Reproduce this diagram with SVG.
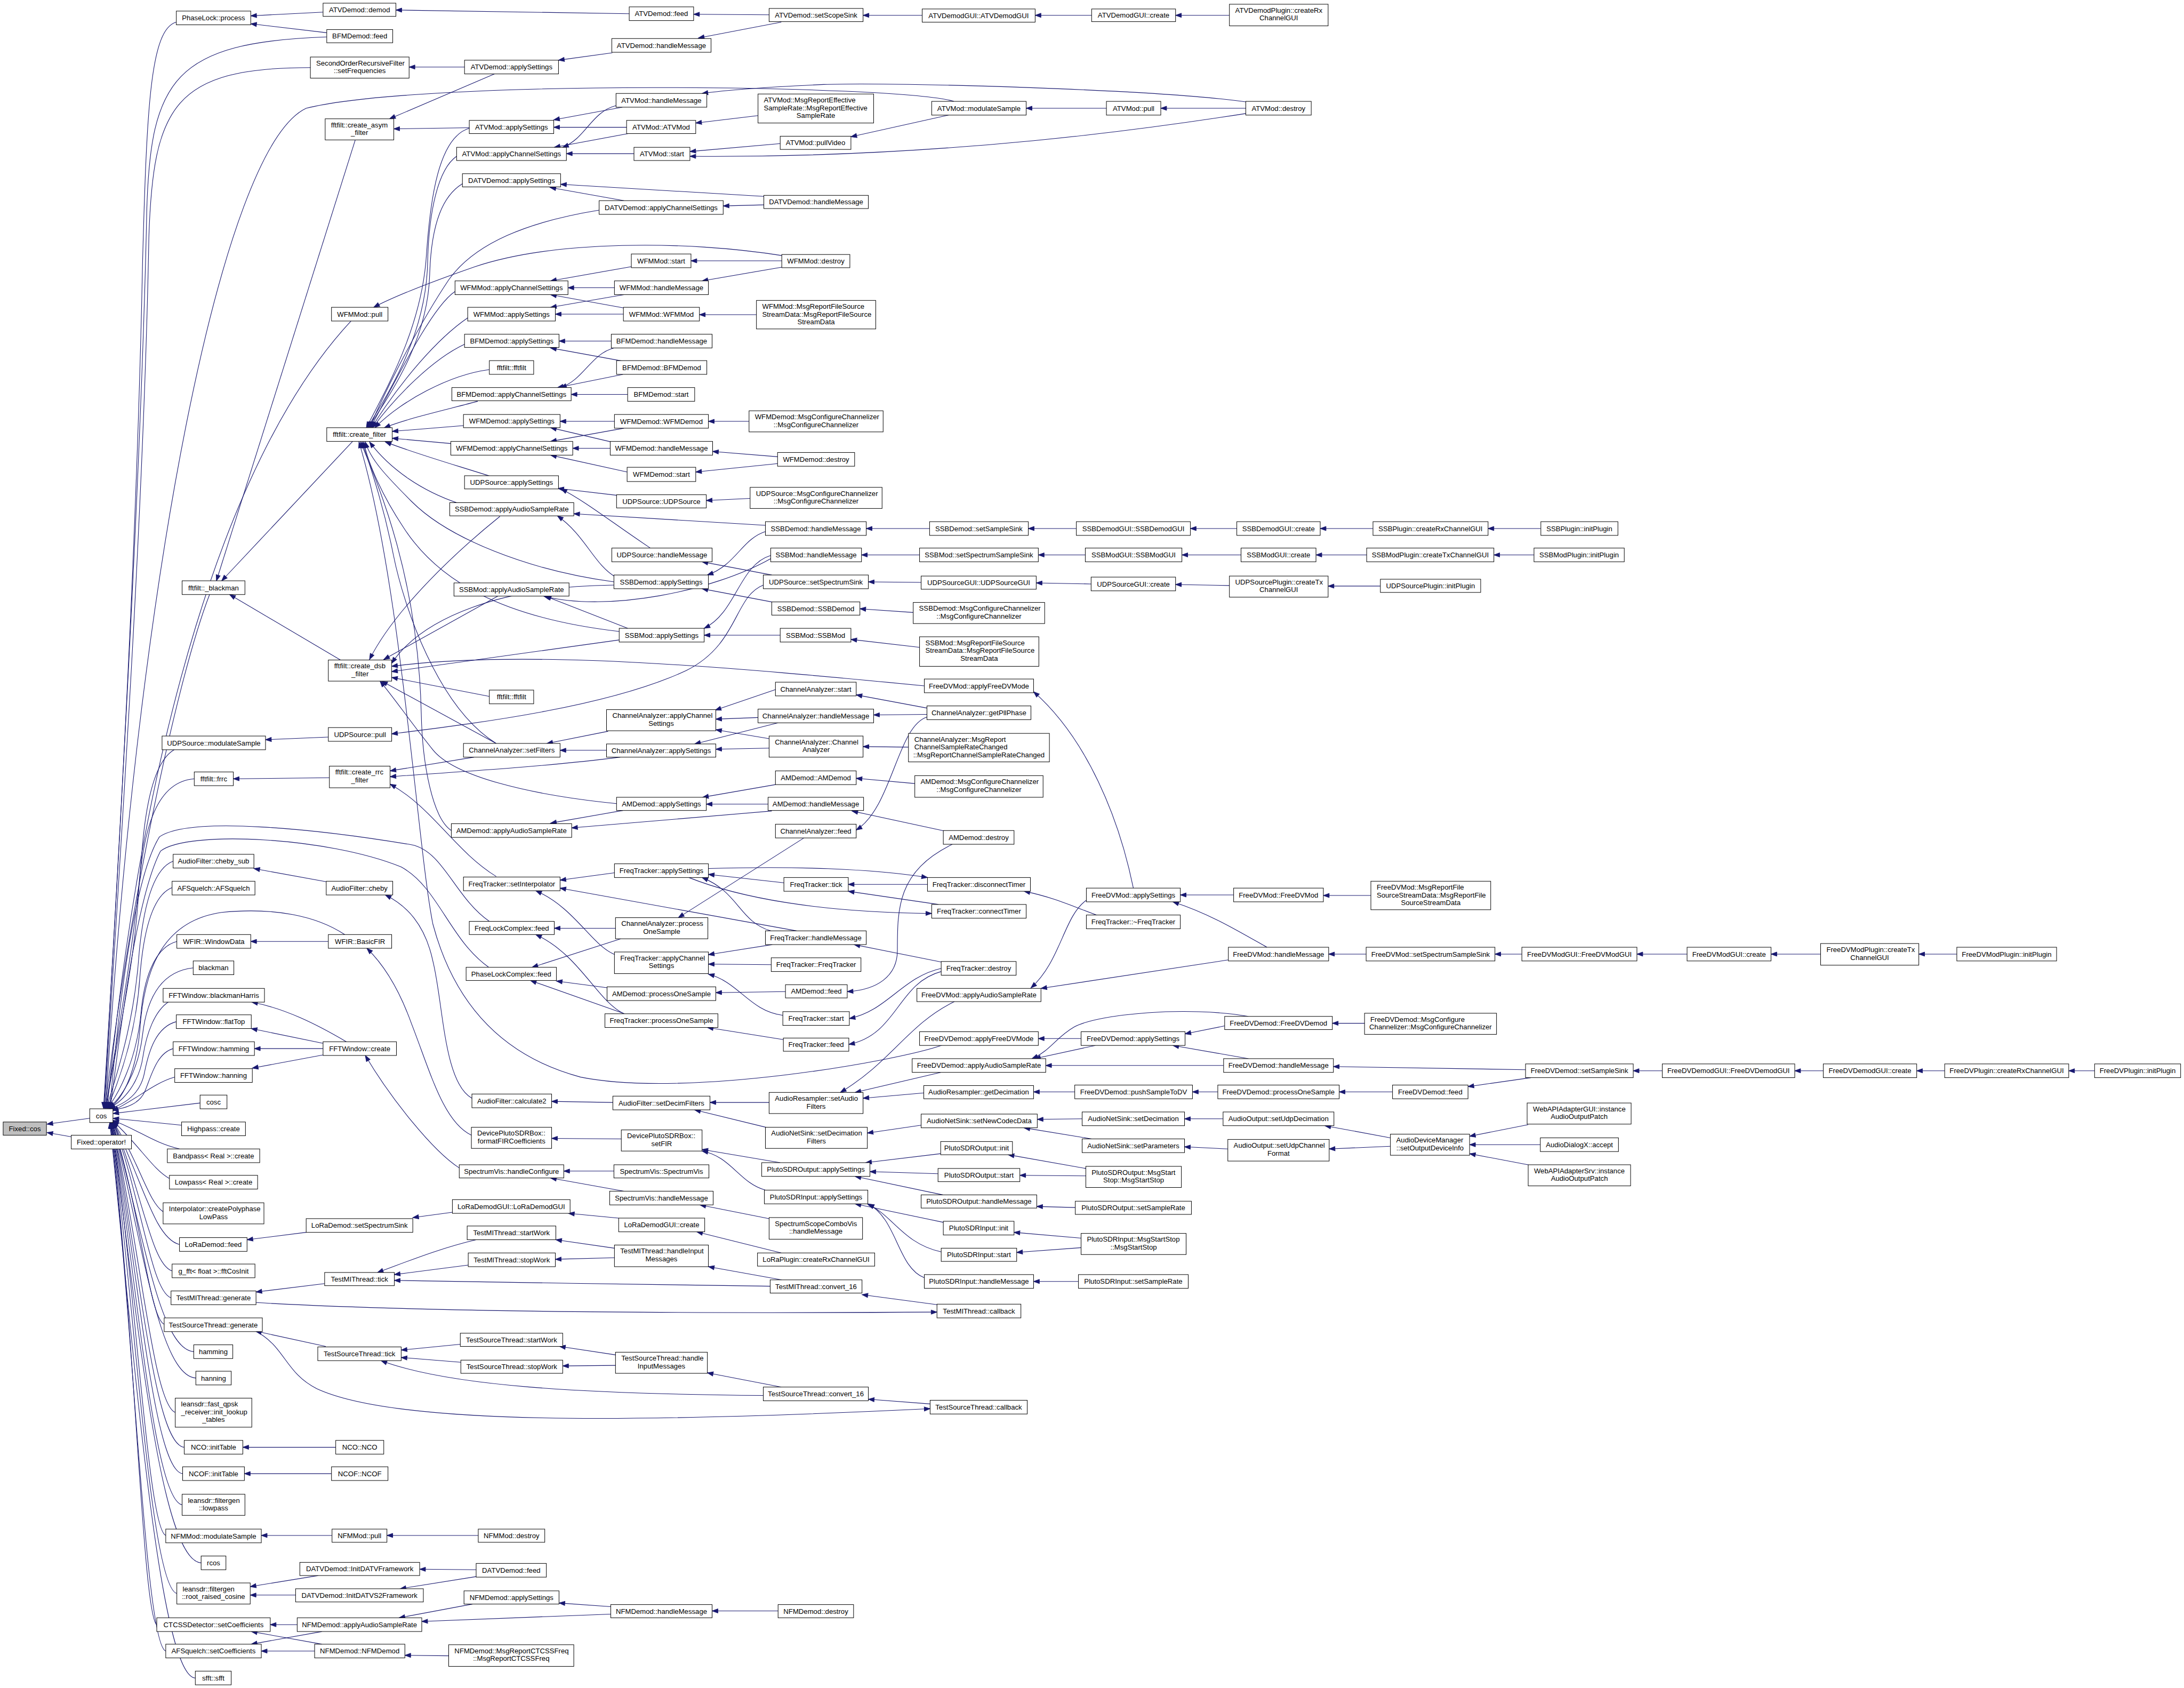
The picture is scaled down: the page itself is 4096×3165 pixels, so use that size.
<svg xmlns="http://www.w3.org/2000/svg" width="4096" height="3165" viewBox="0 0 4096 3165">
<defs>
<marker id="ah" markerWidth="12" markerHeight="8" refX="11" refY="4" orient="auto" markerUnits="userSpaceOnUse" overflow="visible"><path d="M0,0 L11,4 L0,8 z" fill="#191970" stroke="#191970" stroke-width="1"/></marker>
<style>
.n rect{fill:#fff;stroke:#000;stroke-width:1}
.n rect.g{fill:#bfbfbf}
.n text{font-family:"Liberation Sans",Arial,Helvetica,sans-serif;font-size:13.3px;text-anchor:middle;fill:#000}
.n text.l{text-anchor:start}
#edges path{fill:none;stroke:#191970;stroke-width:1.1;marker-end:url(#ah)}
</style>
</defs>
<rect width="4096" height="3165" fill="#fff"/>
<g transform="scale(0.99)">
<g id="edges">
<path d="M170 2118 L89 2129"/>
<path d="M135 2153 L89 2145"/>
<path d="M334 42 C285 55 278 200 270 500 C258 1100 215 1800 196 2099"/>
<path d="M397 1126 C330 1300 240 1750 199 2099"/>
<path d="M330 1420 C295 1440 278 1510 270 1600 C255 1800 215 2000 200 2099"/>
<path d="M368 1475 C300 1480 270 1560 262 1700 C252 1850 215 2000 201 2099"/>
<path d="M328 1631 C290 1645 272 1720 264 1800 C254 1950 215 2050 202 2099"/>
<path d="M326 1681 C290 1695 272 1760 265 1850 C257 1970 220 2060 203 2099"/>
<path d="M335 1783 C290 1795 272 1860 267 1920 C258 2010 225 2070 204 2099"/>
<path d="M366 1833 C300 1840 277 1900 270 1960 C262 2030 230 2080 205 2099"/>
<path d="M320 1897 C292 1915 277 1960 271 2000 C264 2050 235 2085 206 2099"/>
<path d="M334 1935 C296 1945 282 1990 274 2030 C267 2070 240 2090 207 2100"/>
<path d="M328 1986 C296 1995 286 2040 274 2068 C264 2090 238 2100 212 2102"/>
<path d="M331 2040 C290 2052 262 2080 213 2104"/>
<path d="M379 2089 L214 2109"/>
<path d="M619 70 C330 80 285 150 278 400 C268 900 220 1700 197 2099"/>
<path d="M588 128 C330 128 290 200 282 450 C272 1000 222 1700 198 2099"/>
<path d="M1807 192 C1700 160 800 150 580 205 C420 280 260 1100 200 2099"/>
<path d="M665 608 C430 860 270 1400 203 2099"/>
<path d="M653 1770 C600 1735 520 1718 420 1728 C300 1745 272 1850 265 1950 C257 2040 228 2085 207 2099"/>
<path d="M927 1745 C862 1700 840 1612 780 1600 C600 1570 360 1545 302 1585 C255 1660 225 1900 208 2099"/>
<path d="M926 1832 C852 1780 830 1680 760 1642 C620 1585 355 1572 304 1612 C258 1700 228 1950 209 2099"/>
<path d="M344 2131 L214 2118"/>
<path d="M340 2176 C292 2165 262 2140 214 2122"/>
<path d="M321 2232 C290 2215 266 2172 214 2123"/>
<path d="M309 2295 C280 2275 266 2205 214 2124"/>
<path d="M340 2357 C292 2345 270 2235 214 2124"/>
<path d="M326 2407 C286 2395 268 2250 214 2125"/>
<path d="M324 2458 C286 2445 268 2270 214 2125"/>
<path d="M311 2508 C282 2495 266 2290 213 2126"/>
<path d="M367 2560 C300 2555 270 2320 213 2126"/>
<path d="M371 2610 C300 2605 268 2340 213 2126"/>
<path d="M332 2675 C290 2660 266 2360 212 2126"/>
<path d="M349 2741 C290 2735 264 2380 212 2126"/>
<path d="M346 2791 C290 2785 262 2400 212 2126"/>
<path d="M345 2850 C290 2840 260 2420 211 2126"/>
<path d="M314 2908 C280 2895 258 2440 211 2126"/>
<path d="M381 2960 C300 2955 258 2460 210 2126"/>
<path d="M335 3018 C285 3005 256 2480 210 2126"/>
<path d="M297 3077 C270 3060 255 2500 209 2126"/>
<path d="M314 3127 C275 3115 254 2520 209 2126"/>
<path d="M370 3178 C300 3175 252 2540 208 2126"/>
<path d="M612 23 L475 30"/>
<path d="M619 62 L475 45"/>
<path d="M1192 26 L750 19"/>
<path d="M1457 28 L1314 27"/>
<path d="M1480 42 L1323 72"/>
<path d="M1160 100 L1058 114"/>
<path d="M880 127 L775 127"/>
<path d="M1747 29 L1635 29"/>
<path d="M2068 29 L1961 29"/>
<path d="M2329 29 L2227 29"/>
<path d="M937 140 L738 225"/>
<path d="M889 242 L746 244"/>
<path d="M1179 203 L1049 227"/>
<path d="M1187 241 L1049 241"/>
<path d="M1167 200 C1120 212 1110 262 1066 279"/>
<path d="M1190 253 L1050 279"/>
<path d="M1201 291 L1073 291"/>
<path d="M1436 219 L1318 233"/>
<path d="M1478 272 L1307 287"/>
<path d="M2360 215 C2200 240 1800 300 1307 296"/>
<path d="M1797 218 L1612 259"/>
<path d="M2096 205 L1944 205"/>
<path d="M2360 205 L2199 205"/>
<path d="M2360 193 C2200 170 1700 155 1560 160 C1450 165 1380 170 1330 177"/>
<path d="M1447 372 L1062 349"/>
<path d="M1182 380 L1042 355"/>
<path d="M1447 388 L1370 390"/>
<path d="M1196 505 L1043 532"/>
<path d="M1164 545 L1076 545"/>
<path d="M1181 583 L1043 558"/>
<path d="M1182 558 L1043 582"/>
<path d="M1181 595 L1052 595"/>
<path d="M1481 494 L1309 494"/>
<path d="M1481 506 L1330 532"/>
<path d="M1433 596 L1325 596"/>
<path d="M1481 484 C1300 455 1050 455 900 505 C800 540 740 565 708 582"/>
<path d="M1158 646 L1059 646"/>
<path d="M1180 684 L1043 659"/>
<path d="M1163 659 C1120 670 1105 720 1062 734"/>
<path d="M1180 709 L1056 734"/>
<path d="M1189 747 L1082 747"/>
<path d="M1164 798 L1061 798"/>
<path d="M1158 837 L1043 810"/>
<path d="M1182 811 L1043 836"/>
<path d="M1156 849 L1085 849"/>
<path d="M1188 894 L1043 862"/>
<path d="M1419 798 L1342 798"/>
<path d="M1473 865 L1350 855"/>
<path d="M1473 878 L1318 894"/>
<path d="M1168 938 L1057 925"/>
<path d="M1232 1038 C1160 990 1110 950 1063 926"/>
<path d="M1421 944 L1338 948"/>
<path d="M1450 995 L1087 973"/>
<path d="M1168 1094 C1125 1070 1110 1015 1056 977"/>
<path d="M1761 1001 L1641 1001"/>
<path d="M2039 1001 L1948 1001"/>
<path d="M2343 1001 L2255 1001"/>
<path d="M2601 1001 L2501 1001"/>
<path d="M2919 1001 L2819 1001"/>
<path d="M1462 1089 L1330 1064"/>
<path d="M1745 1103 L1645 1102"/>
<path d="M2067 1106 L1963 1104"/>
<path d="M2329 1109 L2227 1107"/>
<path d="M2615 1110 L2516 1110"/>
<path d="M1742 1051 L1632 1051"/>
<path d="M2056 1051 L1967 1051"/>
<path d="M2351 1051 L2239 1051"/>
<path d="M2589 1051 L2493 1051"/>
<path d="M2906 1051 L2830 1051"/>
<path d="M1452 1006 C1405 1020 1395 1070 1340 1089"/>
<path d="M1462 1140 L1330 1115"/>
<path d="M1730 1160 L1629 1153"/>
<path d="M1460 1052 C1400 1070 1395 1160 1334 1190"/>
<path d="M1478 1203 L1334 1203"/>
<path d="M1742 1226 L1612 1211"/>
<path d="M1189 1190 L1033 1129"/>
<path d="M1460 1058 C1350 1120 1150 1160 1030 1129"/>
<path d="M1152 1385 L1036 1408"/>
<path d="M1149 1421 L1061 1421"/>
<path d="M1469 1306 L1355 1345"/>
<path d="M1436 1359 L1356 1362"/>
<path d="M1457 1399 L1356 1382"/>
<path d="M1474 1369 L1316 1409"/>
<path d="M1457 1417 L1356 1419"/>
<path d="M1756 1341 L1622 1316"/>
<path d="M1756 1353 L1655 1354"/>
<path d="M1721 1415 L1635 1414"/>
<path d="M1756 1358 C1700 1375 1690 1530 1622 1572"/>
<path d="M1523 1587 L1285 1738"/>
<path d="M2147 1682 C2120 1550 2060 1400 1958 1310"/>
<path d="M1180 1535 L1043 1559"/>
<path d="M1462 1536 L1083 1568"/>
<path d="M1469 1486 L1331 1510"/>
<path d="M1455 1523 L1338 1523"/>
<path d="M1733 1484 L1622 1474"/>
<path d="M1790 1574 L1614 1536"/>
<path d="M1164 1653 L1061 1667"/>
<path d="M1165 1808 C1120 1790 1090 1720 1015 1687"/>
<path d="M1509 1763 L1061 1682"/>
<path d="M1485 1672 L1342 1656"/>
<path d="M1460 1763 C1400 1745 1400 1690 1330 1662"/>
<path d="M1342 1645 C1500 1640 1650 1645 1757 1662"/>
<path d="M1305 1662 C1400 1700 1550 1728 1765 1730"/>
<path d="M1757 1675 L1607 1675"/>
<path d="M1778 1713 L1607 1688"/>
<path d="M2080 1734 C2040 1720 2000 1700 1940 1688"/>
<path d="M1463 1789 L1342 1808"/>
<path d="M1461 1827 L1342 1826"/>
<path d="M1483 1923 C1420 1915 1400 1860 1342 1845"/>
<path d="M1783 1822 L1618 1789"/>
<path d="M1783 1834 C1710 1850 1680 1915 1609 1929"/>
<path d="M1783 1840 C1700 1862 1700 1960 1608 1978"/>
<path d="M1484 1969 L1340 1946"/>
<path d="M1166 1758 L1050 1758"/>
<path d="M1182 1920 C1130 1895 1100 1810 1015 1770"/>
<path d="M1176 1778 L1008 1832"/>
<path d="M1152 1871 L1054 1858"/>
<path d="M1183 1920 L1005 1857"/>
<path d="M1488 1878 L1356 1880"/>
<path d="M1804 1599 C1700 1650 1700 1720 1700 1800 C1700 1850 1660 1875 1605 1878"/>
<path d="M2058 1705 C2015 1735 2010 1820 1953 1871"/>
<path d="M2327 1818 L1972 1872"/>
<path d="M2337 1695 L2236 1695"/>
<path d="M2400 1794 C2340 1760 2290 1730 2222 1708"/>
<path d="M2597 1696 L2507 1696"/>
<path d="M2588 1807 L2517 1807"/>
<path d="M2883 1807 L2832 1807"/>
<path d="M3196 1807 L3101 1807"/>
<path d="M3449 1807 L3355 1807"/>
<path d="M3707 1807 L3635 1807"/>
<path d="M2048 1967 L1967 1967"/>
<path d="M2075 1980 L1960 2005"/>
<path d="M2365 1925 C2250 1905 2080 1920 2035 1945 C2000 1965 1990 1990 1955 2005"/>
<path d="M2318 2018 L1981 2018"/>
<path d="M2320 1943 L2245 1958"/>
<path d="M2365 2005 L2222 1980"/>
<path d="M2585 1938 L2524 1938"/>
<path d="M2890 2026 L2526 2020"/>
<path d="M2900 2041 L2781 2058"/>
<path d="M3149 2028 L3094 2028"/>
<path d="M3454 2028 L3400 2028"/>
<path d="M3684 2028 L3631 2028"/>
<path d="M3968 2028 L3919 2028"/>
<path d="M2638 2068 L2537 2068"/>
<path d="M2307 2068 L2259 2068"/>
<path d="M2036 2068 L1958 2068"/>
<path d="M1750 2070 L1635 2080"/>
<path d="M1782 2031 L1620 2069"/>
<path d="M1808 1897 C1720 1940 1690 2010 1592 2069"/>
<path d="M1457 2088 L1345 2088"/>
<path d="M1455 2136 L1316 2102"/>
<path d="M1161 2088 L1045 2086"/>
<path d="M1745 2131 L1643 2146"/>
<path d="M2050 2119 L1965 2120"/>
<path d="M2068 2157 L1940 2136"/>
<path d="M2317 2119 L2244 2119"/>
<path d="M2326 2176 L2244 2172"/>
<path d="M2634 2155 L2510 2132"/>
<path d="M2634 2171 L2518 2176"/>
<path d="M2895 2130 L2784 2152"/>
<path d="M2918 2168 L2784 2168"/>
<path d="M2895 2206 L2784 2185"/>
<path d="M1177 2157 L1045 2156"/>
<path d="M1478 2202 L1330 2177"/>
<path d="M1450 2254 C1400 2240 1385 2190 1330 2180"/>
<path d="M1782 2185 L1640 2202"/>
<path d="M1777 2223 L1648 2219"/>
<path d="M1786 2263 L1620 2228"/>
<path d="M1787 2315 L1620 2280"/>
<path d="M1783 2371 C1710 2355 1690 2300 1644 2281"/>
<path d="M1751 2420 C1700 2400 1700 2310 1645 2280"/>
<path d="M2057 2213 L1910 2187"/>
<path d="M2057 2227 L1932 2226"/>
<path d="M2037 2287 L1964 2285"/>
<path d="M2048 2345 L1921 2334"/>
<path d="M2048 2363 L1926 2372"/>
<path d="M2043 2427 L1958 2427"/>
<path d="M893 2150 C840 2125 815 2030 780 1940 C755 1870 725 1825 695 1796"/>
<path d="M894 2080 C840 2050 840 1900 820 1820 C805 1750 770 1715 730 1695"/>
<path d="M870 2212 C820 2180 740 2080 692 1999"/>
<path d="M1163 2218 L1068 2218"/>
<path d="M1182 2256 L1043 2231"/>
<path d="M1457 2308 L1326 2282"/>
<path d="M1172 2307 L1077 2298"/>
<path d="M1480 2373 L1320 2333"/>
<path d="M857 2296 L782 2306"/>
<path d="M580 2334 L468 2348"/>
<path d="M615 2431 L485 2447"/>
<path d="M902 2348 C830 2365 770 2390 715 2410"/>
<path d="M887 2396 L747 2414"/>
<path d="M1459 2436 C1200 2434 1000 2428 747 2425"/>
<path d="M485 2467 C800 2485 1300 2488 1775 2485"/>
<path d="M1164 2364 L1053 2348"/>
<path d="M1164 2382 L1052 2385"/>
<path d="M1481 2424 L1342 2399"/>
<path d="M1775 2471 L1633 2452"/>
<path d="M617 2550 L484 2521"/>
<path d="M872 2546 L760 2557"/>
<path d="M873 2580 L760 2571"/>
<path d="M1446 2643 C1100 2640 850 2625 722 2577"/>
<path d="M484 2521 C540 2550 540 2600 600 2630 C750 2700 1200 2695 1762 2668"/>
<path d="M1166 2566 L1060 2550"/>
<path d="M1166 2586 L1066 2587"/>
<path d="M1480 2627 L1340 2600"/>
<path d="M1762 2659 L1645 2650"/>
<path d="M636 2741 L460 2741"/>
<path d="M628 2791 L463 2791"/>
<path d="M629 2908 L495 2908"/>
<path d="M906 2908 L733 2908"/>
<path d="M603 2984 L474 3005"/>
<path d="M560 3021 L474 3021"/>
<path d="M902 2973 L795 2972"/>
<path d="M902 2986 L758 3009"/>
<path d="M563 3077 L512 3077"/>
<path d="M610 3114 L476 3090"/>
<path d="M610 3090 L476 3114"/>
<path d="M596 3127 L495 3127"/>
<path d="M895 3038 L756 3064"/>
<path d="M1157 3057 L799 3071"/>
<path d="M1157 3043 L1059 3036"/>
<path d="M1474 3051 L1349 3051"/>
<path d="M850 3136 L767 3135"/>
<path d="M618 1670 L481 1645"/>
<path d="M622 1783 L475 1783"/>
<path d="M656 1973 C600 1940 540 1910 477 1898"/>
<path d="M612 1976 L476 1948"/>
<path d="M612 1986 L482 1986"/>
<path d="M612 1998 L478 2023"/>
<path d="M622 1396 L503 1401"/>
<path d="M1446 1108 C1390 1130 1400 1220 1300 1270 C1150 1340 900 1370 742 1390"/>
<path d="M624 1473 L442 1475"/>
<path d="M898 1434 L739 1460"/>
<path d="M1175 1434 C1050 1450 900 1460 739 1471"/>
<path d="M940 1660 C860 1610 820 1530 739 1485"/>
<path d="M673 265 L410 1100"/>
<path d="M668 836 L420 1100"/>
<path d="M645 1250 L435 1126"/>
<path d="M889 243 C830 260 815 380 808 480 C800 620 730 740 694 810"/>
<path d="M865 296 C830 320 812 400 810 500 C806 640 732 750 696 810"/>
<path d="M876 348 C840 370 817 420 814 520 C810 650 736 750 698 810"/>
<path d="M1135 398 C1000 420 900 460 850 530 C790 620 730 740 700 810"/>
<path d="M862 552 C820 580 760 700 702 810"/>
<path d="M886 602 C830 640 760 720 704 810"/>
<path d="M880 652 C820 680 750 750 706 810"/>
<path d="M927 700 C850 710 760 760 710 810"/>
<path d="M905 760 C850 775 780 790 728 810"/>
<path d="M878 806 L743 817"/>
<path d="M854 840 L743 830"/>
<path d="M929 902 C860 880 790 860 730 837"/>
<path d="M868 953 C800 930 740 890 700 837"/>
<path d="M1163 1102 C1000 1080 850 1020 780 950 C730 900 702 870 692 837"/>
<path d="M1173 1196 C950 1170 830 1100 765 1000 C725 940 698 880 689 837"/>
<path d="M940 1408 C830 1340 765 1150 745 1050 C725 950 700 880 686 837"/>
<path d="M855 1573 C820 1550 800 1450 798 1350 C792 1100 722 930 683 837"/>
<path d="M1786 1979 C1700 2010 1300 2080 1100 2040 C950 2000 860 1900 820 1750 C790 1600 760 1100 680 837"/>
<path d="M943 1129 L727 1249"/>
<path d="M947 978 C870 1040 750 1150 700 1249"/>
<path d="M1751 1299 C1400 1265 1000 1228 742 1262"/>
<path d="M927 1319 L742 1283"/>
<path d="M940 1408 L723 1290"/>
<path d="M1168 1522 C1000 1505 860 1470 820 1420 C780 1370 745 1320 720 1290"/>
<path d="M1173 1212 L742 1272"/>
<path d="M1163 1108 C950 1110 800 1170 742 1256"/>
</g>
<g id="nodes">
<g id="n-fixed-cos" class="n"><rect class="g" x="6" y="2125" width="82" height="25"/><text x="47" y="2142.2">Fixed::cos</text></g>
<g id="n-cos" class="n"><rect x="170" y="2100" width="44" height="26"/><text x="192" y="2117.7">cos</text></g>
<g id="n-fop" class="n"><rect x="135" y="2150" width="114" height="26"/><text x="192" y="2167.7">Fixed::operator!</text></g>
<g id="n-plp" class="n"><rect x="334" y="21" width="141" height="26"/><text x="404.5" y="38.7">PhaseLock::process</text></g>
<g id="n-blk" class="n"><rect x="345" y="1100" width="119" height="26"/><text x="404.5" y="1117.7">fftfilt::_blackman</text></g>
<g id="n-udpms" class="n"><rect x="307" y="1394" width="196" height="26"/><text x="405" y="1411.7">UDPSource::modulateSample</text></g>
<g id="n-frrc" class="n"><rect x="368" y="1462" width="74" height="26"/><text x="405" y="1479.7">fftfilt::frrc</text></g>
<g id="n-chsub" class="n"><rect x="328" y="1618" width="153" height="26"/><text x="404.5" y="1635.7">AudioFilter::cheby_sub</text></g>
<g id="n-afsq" class="n"><rect x="326" y="1669" width="157" height="26"/><text x="404.5" y="1686.7">AFSquelch::AFSquelch</text></g>
<g id="n-wdata" class="n"><rect x="335" y="1770" width="140" height="26"/><text x="405" y="1787.7">WFIR::WindowData</text></g>
<g id="n-blackman" class="n"><rect x="366" y="1820" width="77" height="26"/><text x="404.5" y="1837.7">blackman</text></g>
<g id="n-bharris" class="n"><rect x="309" y="1872" width="192" height="26"/><text x="405" y="1889.7">FFTWindow::blackmanHarris</text></g>
<g id="n-flattop" class="n"><rect x="334" y="1922" width="142" height="26"/><text x="405" y="1939.7">FFTWindow::flatTop</text></g>
<g id="n-fwham" class="n"><rect x="328" y="1973" width="154" height="26"/><text x="405" y="1990.7">FFTWindow::hamming</text></g>
<g id="n-fwhan" class="n"><rect x="331" y="2024" width="147" height="26"/><text x="404.5" y="2041.7">FFTWindow::hanning</text></g>
<g id="n-cosc" class="n"><rect x="379" y="2074" width="51" height="26"/><text x="404.5" y="2091.7">cosc</text></g>
<g id="n-hp" class="n"><rect x="344" y="2125" width="121" height="26"/><text x="404.5" y="2142.7">Highpass::create</text></g>
<g id="n-bp" class="n"><rect x="317" y="2176" width="175" height="26"/><text x="404.5" y="2193.7">Bandpass&lt; Real &gt;::create</text></g>
<g id="n-lp" class="n"><rect x="321" y="2226" width="167" height="26"/><text x="404.5" y="2243.7">Lowpass&lt; Real &gt;::create</text></g>
<g id="n-interp" class="n"><rect x="309" y="2278" width="191" height="40"/><text class="l" x="320" y="2294">Interpolator::createPolyphase</text><text x="404.5" y="2308.7">LowPass</text></g>
<g id="n-lorafeed" class="n"><rect x="340" y="2344" width="128" height="26"/><text x="404" y="2361.7">LoRaDemod::feed</text></g>
<g id="n-gfft" class="n"><rect x="326" y="2394" width="157" height="26"/><text x="404.5" y="2411.7">g_fft&lt; float &gt;::fftCosInit</text></g>
<g id="n-tmgen" class="n"><rect x="324" y="2445" width="161" height="26"/><text x="404.5" y="2462.7">TestMIThread::generate</text></g>
<g id="n-tsgen" class="n"><rect x="311" y="2496" width="186" height="26"/><text x="404" y="2513.7">TestSourceThread::generate</text></g>
<g id="n-ham" class="n"><rect x="367" y="2547" width="74" height="26"/><text x="404" y="2564.7">hamming</text></g>
<g id="n-han" class="n"><rect x="371" y="2597" width="67" height="26"/><text x="404.5" y="2614.7">hanning</text></g>
<g id="n-qpsk" class="n"><rect x="332" y="2648" width="145" height="55"/><text class="l" x="343" y="2664">leansdr::fast_qpsk</text><text class="l" x="343" y="2678.7">_receiver::init_lookup</text><text x="404.5" y="2693.4">_tables</text></g>
<g id="n-ncoit" class="n"><rect x="349" y="2728" width="111" height="26"/><text x="404.5" y="2745.7">NCO::initTable</text></g>
<g id="n-ncofit" class="n"><rect x="346" y="2778" width="117" height="26"/><text x="404.5" y="2795.7">NCOF::initTable</text></g>
<g id="n-fglp" class="n"><rect x="345" y="2830" width="119" height="40"/><text class="l" x="356" y="2846">leansdr::filtergen</text><text x="404.5" y="2860.7">::lowpass</text></g>
<g id="n-nfmms" class="n"><rect x="314" y="2896" width="181" height="26"/><text x="404.5" y="2913.7">NFMMod::modulateSample</text></g>
<g id="n-rcos" class="n"><rect x="381" y="2947" width="47" height="26"/><text x="404.5" y="2964.7">rcos</text></g>
<g id="n-fgrrc" class="n"><rect x="335" y="2998" width="139" height="40"/><text class="l" x="346" y="3014">leansdr::filtergen</text><text x="404.5" y="3028.7">::root_raised_cosine</text></g>
<g id="n-ctcss" class="n"><rect x="297" y="3064" width="215" height="26"/><text x="404.5" y="3081.7">CTCSSDetector::setCoefficients</text></g>
<g id="n-afsqsc" class="n"><rect x="314" y="3114" width="181" height="26"/><text x="404.5" y="3131.7">AFSquelch::setCoefficients</text></g>
<g id="n-sfft" class="n"><rect x="370" y="3165" width="68" height="26"/><text x="404" y="3182.7">sfft::sfft</text></g>
<g id="n-atvddemod" class="n"><rect x="612" y="6" width="138" height="25"/><text x="681" y="23.2">ATVDemod::demod</text></g>
<g id="n-bfmfeed" class="n"><rect x="619" y="56" width="125" height="25"/><text x="681.5" y="73.2">BFMDemod::feed</text></g>
<g id="n-sorf" class="n"><rect x="588" y="108" width="187" height="40"/><text class="l" x="599" y="124">SecondOrderRecursiveFilter</text><text x="681.5" y="138.7">::setFrequencies</text></g>
<g id="n-casym" class="n"><rect x="616" y="225" width="130" height="40"/><text class="l" x="627" y="241">fftfilt::create_asym</text><text x="681" y="255.7">_filter</text></g>
<g id="n-wfmmpull" class="n"><rect x="628" y="582" width="107" height="26"/><text x="681.5" y="599.7">WFMMod::pull</text></g>
<g id="n-cfilt" class="n"><rect x="619" y="810" width="124" height="26"/><text x="681" y="827.7">fftfilt::create_filter</text></g>
<g id="n-cdsb" class="n"><rect x="622" y="1250" width="120" height="40"/><text class="l" x="633" y="1266">fftfilt::create_dsb</text><text x="682" y="1280.7">_filter</text></g>
<g id="n-udppull" class="n"><rect x="622" y="1378" width="120" height="26"/><text x="682" y="1395.7">UDPSource::pull</text></g>
<g id="n-crrc" class="n"><rect x="624" y="1451" width="115" height="41"/><text class="l" x="635" y="1467">fftfilt::create_rrc</text><text x="681.5" y="1481.7">_filter</text></g>
<g id="n-cheby" class="n"><rect x="618" y="1669" width="126" height="26"/><text x="681" y="1686.7">AudioFilter::cheby</text></g>
<g id="n-bfir" class="n"><rect x="622" y="1770" width="120" height="26"/><text x="682" y="1787.7">WFIR::BasicFIR</text></g>
<g id="n-fwcreate" class="n"><rect x="612" y="1973" width="139" height="26"/><text x="681.5" y="1990.7">FFTWindow::create</text></g>
<g id="n-lorasss" class="n"><rect x="580" y="2308" width="202" height="26"/><text x="681" y="2325.7">LoRaDemod::setSpectrumSink</text></g>
<g id="n-tmtick" class="n"><rect x="615" y="2410" width="132" height="25"/><text x="681" y="2427.2">TestMIThread::tick</text></g>
<g id="n-tstick" class="n"><rect x="602" y="2551" width="158" height="26"/><text x="681" y="2568.7">TestSourceThread::tick</text></g>
<g id="n-nco" class="n"><rect x="636" y="2728" width="91" height="26"/><text x="681.5" y="2745.7">NCO::NCO</text></g>
<g id="n-ncof" class="n"><rect x="628" y="2778" width="107" height="26"/><text x="681.5" y="2795.7">NCOF::NCOF</text></g>
<g id="n-nfmmpull" class="n"><rect x="629" y="2896" width="104" height="25"/><text x="681" y="2913.2">NFMMod::pull</text></g>
<g id="n-datvinit" class="n"><rect x="568" y="2959" width="227" height="25"/><text x="681.5" y="2976.2">DATVDemod::InitDATVFramework</text></g>
<g id="n-datvinit2" class="n"><rect x="560" y="3009" width="242" height="25"/><text x="681" y="3026.2">DATVDemod::InitDATVS2Framework</text></g>
<g id="n-nfmdaasr" class="n"><rect x="563" y="3064" width="236" height="26"/><text x="681" y="3081.7">NFMDemod::applyAudioSampleRate</text></g>
<g id="n-nfmdctor" class="n"><rect x="596" y="3114" width="171" height="26"/><text x="681.5" y="3131.7">NFMDemod::NFMDemod</text></g>
<g id="n-atvdapply" class="n"><rect x="880" y="114" width="178" height="26"/><text x="969" y="131.7">ATVDemod::applySettings</text></g>
<g id="n-atvmapply" class="n"><rect x="889" y="228" width="160" height="25"/><text x="969" y="245.2">ATVMod::applySettings</text></g>
<g id="n-atvmapplych" class="n"><rect x="865" y="279" width="208" height="25"/><text x="969" y="296.2">ATVMod::applyChannelSettings</text></g>
<g id="n-datvapply" class="n"><rect x="876" y="329" width="186" height="25"/><text x="969" y="346.2">DATVDemod::applySettings</text></g>
<g id="n-wfmmapplych" class="n"><rect x="862" y="532" width="214" height="26"/><text x="969" y="549.7">WFMMod::applyChannelSettings</text></g>
<g id="n-wfmmapply" class="n"><rect x="886" y="582" width="166" height="26"/><text x="969" y="599.7">WFMMod::applySettings</text></g>
<g id="n-bfmapply" class="n"><rect x="880" y="633" width="179" height="25"/><text x="969.5" y="650.2">BFMDemod::applySettings</text></g>
<g id="n-fftfilt1" class="n"><rect x="927" y="683" width="84" height="26"/><text x="969" y="700.7">fftfilt::fftfilt</text></g>
<g id="n-bfmapplych" class="n"><rect x="856" y="734" width="226" height="25"/><text x="969" y="751.2">BFMDemod::applyChannelSettings</text></g>
<g id="n-wfmdapply" class="n"><rect x="878" y="785" width="183" height="25"/><text x="969.5" y="802.2">WFMDemod::applySettings</text></g>
<g id="n-wfmdapplych" class="n"><rect x="854" y="836" width="231" height="26"/><text x="969.5" y="853.7">WFMDemod::applyChannelSettings</text></g>
<g id="n-udpapply" class="n"><rect x="880" y="901" width="178" height="25"/><text x="969" y="918.2">UDPSource::applySettings</text></g>
<g id="n-ssbdaasr" class="n"><rect x="852" y="952" width="235" height="25"/><text x="969.5" y="969.2">SSBDemod::applyAudioSampleRate</text></g>
<g id="n-ssbmaasr" class="n"><rect x="860" y="1104" width="218" height="25"/><text x="969" y="1121.2">SSBMod::applyAudioSampleRate</text></g>
<g id="n-fftfilt2" class="n"><rect x="927" y="1307" width="84" height="26"/><text x="969" y="1324.7">fftfilt::fftfilt</text></g>
<g id="n-casf" class="n"><rect x="878" y="1408" width="183" height="26"/><text x="969.5" y="1425.7">ChannelAnalyzer::setFilters</text></g>
<g id="n-amdaasr" class="n"><rect x="855" y="1560" width="228" height="26"/><text x="969" y="1577.7">AMDemod::applyAudioSampleRate</text></g>
<g id="n-ftsi" class="n"><rect x="878" y="1661" width="183" height="26"/><text x="969.5" y="1678.7">FreqTracker::setInterpolator</text></g>
<g id="n-flcfeed" class="n"><rect x="889" y="1745" width="161" height="25"/><text x="969.5" y="1762.2">FreqLockComplex::feed</text></g>
<g id="n-plcfeed" class="n"><rect x="883" y="1832" width="171" height="25"/><text x="968.5" y="1849.2">PhaseLockComplex::feed</text></g>
<g id="n-calc2" class="n"><rect x="894" y="2072" width="151" height="26"/><text x="969.5" y="2089.7">AudioFilter::calculate2</text></g>
<g id="n-fmtfir" class="n"><rect x="893" y="2135" width="152" height="40"/><text class="l" x="904" y="2151">DevicePlutoSDRBox::</text><text x="969" y="2165.7">formatFIRCoefficients</text></g>
<g id="n-svhc" class="n"><rect x="870" y="2206" width="198" height="25"/><text x="969" y="2223.2">SpectrumVis::handleConfigure</text></g>
<g id="n-loragui" class="n"><rect x="857" y="2272" width="223" height="26"/><text x="968.5" y="2289.7">LoRaDemodGUI::LoRaDemodGUI</text></g>
<g id="n-tmstart" class="n"><rect x="885" y="2322" width="168" height="26"/><text x="969" y="2339.7">TestMIThread::startWork</text></g>
<g id="n-tmstop" class="n"><rect x="887" y="2373" width="165" height="26"/><text x="969.5" y="2390.7">TestMIThread::stopWork</text></g>
<g id="n-tsstart" class="n"><rect x="872" y="2525" width="194" height="25"/><text x="969" y="2542.2">TestSourceThread::startWork</text></g>
<g id="n-tsstop" class="n"><rect x="873" y="2576" width="193" height="25"/><text x="969.5" y="2593.2">TestSourceThread::stopWork</text></g>
<g id="n-nfmmdestroy" class="n"><rect x="906" y="2896" width="126" height="25"/><text x="969" y="2913.2">NFMMod::destroy</text></g>
<g id="n-datvfeed" class="n"><rect x="902" y="2961" width="133" height="26"/><text x="968.5" y="2978.7">DATVDemod::feed</text></g>
<g id="n-nfmdapply" class="n"><rect x="879" y="3013" width="180" height="25"/><text x="969" y="3030.2">NFMDemod::applySettings</text></g>
<g id="n-nfmdmsg" class="n"><rect x="850" y="3115" width="237" height="41"/><text class="l" x="861" y="3131">NFMDemod::MsgReportCTCSSFreq</text><text x="968.5" y="3145.7">::MsgReportCTCSSFreq</text></g>
<g id="n-atvdfeed" class="n"><rect x="1192" y="13" width="122" height="26"/><text x="1253" y="30.7">ATVDemod::feed</text></g>
<g id="n-atvdhm" class="n"><rect x="1159" y="73" width="188" height="26"/><text x="1253" y="90.7">ATVDemod::handleMessage</text></g>
<g id="n-atvmhm" class="n"><rect x="1167" y="177" width="172" height="26"/><text x="1253" y="194.7">ATVMod::handleMessage</text></g>
<g id="n-atvmctor" class="n"><rect x="1187" y="228" width="131" height="25"/><text x="1252.5" y="245.2">ATVMod::ATVMod</text></g>
<g id="n-atvmstart" class="n"><rect x="1201" y="279" width="106" height="25"/><text x="1254" y="296.2">ATVMod::start</text></g>
<g id="n-datvapplych" class="n"><rect x="1135" y="380" width="235" height="26"/><text x="1252.5" y="397.7">DATVDemod::applyChannelSettings</text></g>
<g id="n-wfmmstart" class="n"><rect x="1196" y="481" width="113" height="26"/><text x="1252.5" y="498.7">WFMMod::start</text></g>
<g id="n-wfmmhm" class="n"><rect x="1164" y="532" width="178" height="26"/><text x="1253" y="549.7">WFMMod::handleMessage</text></g>
<g id="n-wfmmctor" class="n"><rect x="1181" y="582" width="144" height="26"/><text x="1253" y="599.7">WFMMod::WFMMod</text></g>
<g id="n-bfmhm" class="n"><rect x="1158" y="633" width="191" height="26"/><text x="1253.5" y="650.7">BFMDemod::handleMessage</text></g>
<g id="n-bfmctor" class="n"><rect x="1168" y="683" width="171" height="26"/><text x="1253.5" y="700.7">BFMDemod::BFMDemod</text></g>
<g id="n-bfmstart" class="n"><rect x="1189" y="734" width="127" height="26"/><text x="1252.5" y="751.7">BFMDemod::start</text></g>
<g id="n-wfmdctor" class="n"><rect x="1164" y="785" width="178" height="26"/><text x="1253" y="802.7">WFMDemod::WFMDemod</text></g>
<g id="n-wfmdhm" class="n"><rect x="1156" y="836" width="194" height="26"/><text x="1253" y="853.7">WFMDemod::handleMessage</text></g>
<g id="n-wfmdstart" class="n"><rect x="1188" y="885" width="130" height="27"/><text x="1253" y="903.2">WFMDemod::start</text></g>
<g id="n-udpctor" class="n"><rect x="1168" y="937" width="170" height="25"/><text x="1253" y="954.2">UDPSource::UDPSource</text></g>
<g id="n-udphm" class="n"><rect x="1159" y="1038" width="190" height="26"/><text x="1254" y="1055.7">UDPSource::handleMessage</text></g>
<g id="n-ssbdapply" class="n"><rect x="1163" y="1089" width="179" height="26"/><text x="1252.5" y="1106.7">SSBDemod::applySettings</text></g>
<g id="n-ssbmapply" class="n"><rect x="1173" y="1190" width="161" height="26"/><text x="1253.5" y="1207.7">SSBMod::applySettings</text></g>
<g id="n-caapplych" class="n"><rect x="1149" y="1344" width="207" height="40"/><text class="l" x="1160" y="1360">ChannelAnalyzer::applyChannel</text><text x="1252.5" y="1374.7">Settings</text></g>
<g id="n-caapply" class="n"><rect x="1149" y="1409" width="207" height="25"/><text x="1252.5" y="1426.2">ChannelAnalyzer::applySettings</text></g>
<g id="n-amdapply" class="n"><rect x="1168" y="1510" width="170" height="25"/><text x="1253" y="1527.2">AMDemod::applySettings</text></g>
<g id="n-ftapply" class="n"><rect x="1164" y="1636" width="178" height="26"/><text x="1253" y="1653.7">FreqTracker::applySettings</text></g>
<g id="n-capos" class="n"><rect x="1166" y="1738" width="175" height="40"/><text class="l" x="1177" y="1754">ChannelAnalyzer::process</text><text x="1253.5" y="1768.7">OneSample</text></g>
<g id="n-ftapplych" class="n"><rect x="1164" y="1803" width="178" height="41"/><text class="l" x="1175" y="1819">FreqTracker::applyChannel</text><text x="1253" y="1833.7">Settings</text></g>
<g id="n-amdpos" class="n"><rect x="1150" y="1869" width="206" height="26"/><text x="1253" y="1886.7">AMDemod::processOneSample</text></g>
<g id="n-ftpos" class="n"><rect x="1146" y="1920" width="214" height="26"/><text x="1253" y="1937.7">FreqTracker::processOneSample</text></g>
<g id="n-afsdf" class="n"><rect x="1161" y="2076" width="184" height="26"/><text x="1253" y="2093.7">AudioFilter::setDecimFilters</text></g>
<g id="n-setfir" class="n"><rect x="1177" y="2140" width="153" height="40"/><text class="l" x="1188" y="2156">DevicePlutoSDRBox::</text><text x="1253.5" y="2170.7">setFIR</text></g>
<g id="n-svctor" class="n"><rect x="1163" y="2206" width="180" height="25"/><text x="1253" y="2223.2">SpectrumVis::SpectrumVis</text></g>
<g id="n-svhm" class="n"><rect x="1155" y="2256" width="196" height="26"/><text x="1253" y="2273.7">SpectrumVis::handleMessage</text></g>
<g id="n-loraguicreate" class="n"><rect x="1172" y="2307" width="163" height="26"/><text x="1253.5" y="2324.7">LoRaDemodGUI::create</text></g>
<g id="n-tmhim" class="n"><rect x="1164" y="2358" width="178" height="41"/><text class="l" x="1175" y="2374">TestMIThread::handleInput</text><text x="1253" y="2388.7">Messages</text></g>
<g id="n-tshim" class="n"><rect x="1166" y="2561" width="174" height="40"/><text class="l" x="1177" y="2577">TestSourceThread::handle</text><text x="1253" y="2591.7">InputMessages</text></g>
<g id="n-nfmdhm" class="n"><rect x="1157" y="3039" width="192" height="25"/><text x="1253" y="3056.2">NFMDemod::handleMessage</text></g>
<g id="n-atvdsss" class="n"><rect x="1457" y="16" width="178" height="25"/><text x="1546" y="33.2">ATVDemod::setScopeSink</text></g>
<g id="n-atvmmsg" class="n"><rect x="1436" y="178" width="219" height="55"/><text class="l" x="1447" y="194">ATVMod::MsgReportEffective</text><text class="l" x="1447" y="208.7">SampleRate::MsgReportEffective</text><text x="1545.5" y="223.4">SampleRate</text></g>
<g id="n-atvmpv" class="n"><rect x="1478" y="258" width="134" height="25"/><text x="1545" y="275.2">ATVMod::pullVideo</text></g>
<g id="n-datvhm" class="n"><rect x="1447" y="370" width="198" height="25"/><text x="1546" y="387.2">DATVDemod::handleMessage</text></g>
<g id="n-wfmmdestroy" class="n"><rect x="1481" y="482" width="129" height="25"/><text x="1545.5" y="499.2">WFMMod::destroy</text></g>
<g id="n-wfmmmsg" class="n"><rect x="1433" y="569" width="226" height="54"/><text class="l" x="1444" y="585">WFMMod::MsgReportFileSource</text><text class="l" x="1444" y="599.7">StreamData::MsgReportFileSource</text><text x="1546" y="614.4">StreamData</text></g>
<g id="n-wfmdmsg" class="n"><rect x="1419" y="778" width="254" height="40"/><text class="l" x="1430" y="794">WFMDemod::MsgConfigureChannelizer</text><text x="1546" y="808.7">::MsgConfigureChannelizer</text></g>
<g id="n-wfmddestroy" class="n"><rect x="1473" y="857" width="146" height="26"/><text x="1546" y="874.7">WFMDemod::destroy</text></g>
<g id="n-udpmsg" class="n"><rect x="1421" y="923" width="250" height="40"/><text class="l" x="1432" y="939">UDPSource::MsgConfigureChannelizer</text><text x="1546" y="953.7">::MsgConfigureChannelizer</text></g>
<g id="n-ssbdhm" class="n"><rect x="1450" y="988" width="191" height="26"/><text x="1545.5" y="1005.7">SSBDemod::handleMessage</text></g>
<g id="n-ssbmhm" class="n"><rect x="1460" y="1038" width="172" height="26"/><text x="1546" y="1055.7">SSBMod::handleMessage</text></g>
<g id="n-udpsss" class="n"><rect x="1446" y="1089" width="199" height="26"/><text x="1545.5" y="1106.7">UDPSource::setSpectrumSink</text></g>
<g id="n-ssbdctor" class="n"><rect x="1462" y="1140" width="167" height="25"/><text x="1545.5" y="1157.2">SSBDemod::SSBDemod</text></g>
<g id="n-ssbmctor" class="n"><rect x="1478" y="1190" width="134" height="26"/><text x="1545" y="1207.7">SSBMod::SSBMod</text></g>
<g id="n-castart" class="n"><rect x="1469" y="1292" width="153" height="26"/><text x="1545.5" y="1309.7">ChannelAnalyzer::start</text></g>
<g id="n-cahm" class="n"><rect x="1436" y="1343" width="219" height="26"/><text x="1545.5" y="1360.7">ChannelAnalyzer::handleMessage</text></g>
<g id="n-cactor" class="n"><rect x="1457" y="1394" width="178" height="40"/><text class="l" x="1468" y="1410">ChannelAnalyzer::Channel</text><text x="1546" y="1424.7">Analyzer</text></g>
<g id="n-amdctor" class="n"><rect x="1469" y="1460" width="153" height="26"/><text x="1545.5" y="1477.7">AMDemod::AMDemod</text></g>
<g id="n-amdhm" class="n"><rect x="1455" y="1510" width="181" height="25"/><text x="1545.5" y="1527.2">AMDemod::handleMessage</text></g>
<g id="n-cafeed" class="n"><rect x="1469" y="1561" width="153" height="26"/><text x="1545.5" y="1578.7">ChannelAnalyzer::feed</text></g>
<g id="n-fttick" class="n"><rect x="1485" y="1662" width="122" height="26"/><text x="1546" y="1679.7">FreqTracker::tick</text></g>
<g id="n-fthm" class="n"><rect x="1450" y="1763" width="191" height="26"/><text x="1545.5" y="1780.7">FreqTracker::handleMessage</text></g>
<g id="n-ftctor" class="n"><rect x="1461" y="1814" width="170" height="26"/><text x="1546" y="1831.7">FreqTracker::FreqTracker</text></g>
<g id="n-amdfeed" class="n"><rect x="1488" y="1865" width="117" height="25"/><text x="1546.5" y="1882.2">AMDemod::feed</text></g>
<g id="n-ftstart" class="n"><rect x="1483" y="1916" width="126" height="26"/><text x="1546" y="1933.7">FreqTracker::start</text></g>
<g id="n-ftfeed" class="n"><rect x="1484" y="1966" width="124" height="25"/><text x="1546" y="1983.2">FreqTracker::feed</text></g>
<g id="n-arsaf" class="n"><rect x="1457" y="2069" width="178" height="40"/><text class="l" x="1468" y="2085">AudioResampler::setAudio</text><text x="1546" y="2099.7">Filters</text></g>
<g id="n-ansdf" class="n"><rect x="1450" y="2135" width="193" height="40"/><text class="l" x="1461" y="2151">AudioNetSink::setDecimation</text><text x="1546.5" y="2165.7">Filters</text></g>
<g id="n-psoapply" class="n"><rect x="1443" y="2202" width="205" height="26"/><text x="1545.5" y="2219.7">PlutoSDROutput::applySettings</text></g>
<g id="n-psiapply" class="n"><rect x="1448" y="2254" width="196" height="26"/><text x="1546" y="2271.7">PlutoSDRInput::applySettings</text></g>
<g id="n-sscvhm" class="n"><rect x="1457" y="2306" width="177" height="41"/><text class="l" x="1468" y="2322">SpectrumScopeComboVis</text><text x="1545.5" y="2336.7">::handleMessage</text></g>
<g id="n-loraplugin" class="n"><rect x="1435" y="2373" width="222" height="25"/><text x="1546" y="2390.2">LoRaPlugin::createRxChannelGUI</text></g>
<g id="n-tmconv" class="n"><rect x="1459" y="2424" width="174" height="25"/><text x="1546" y="2441.2">TestMIThread::convert_16</text></g>
<g id="n-tsconv" class="n"><rect x="1446" y="2627" width="199" height="26"/><text x="1545.5" y="2644.7">TestSourceThread::convert_16</text></g>
<g id="n-nfmddestroy" class="n"><rect x="1474" y="3039" width="143" height="25"/><text x="1545.5" y="3056.2">NFMDemod::destroy</text></g>
<g id="n-atvdgui" class="n"><rect x="1747" y="17" width="214" height="25"/><text x="1854" y="34.2">ATVDemodGUI::ATVDemodGUI</text></g>
<g id="n-atvmms" class="n"><rect x="1765" y="192" width="179" height="26"/><text x="1854.5" y="209.7">ATVMod::modulateSample</text></g>
<g id="n-ssbdsss" class="n"><rect x="1761" y="988" width="187" height="26"/><text x="1854.5" y="1005.7">SSBDemod::setSampleSink</text></g>
<g id="n-ssbmsss" class="n"><rect x="1742" y="1038" width="225" height="26"/><text x="1854.5" y="1055.7">SSBMod::setSpectrumSampleSink</text></g>
<g id="n-udpgui" class="n"><rect x="1745" y="1091" width="218" height="25"/><text x="1854" y="1108.2">UDPSourceGUI::UDPSourceGUI</text></g>
<g id="n-ssbdmsg" class="n"><rect x="1730" y="1141" width="249" height="40"/><text class="l" x="1741" y="1157">SSBDemod::MsgConfigureChannelizer</text><text x="1854.5" y="1171.7">::MsgConfigureChannelizer</text></g>
<g id="n-ssbmmsg" class="n"><rect x="1742" y="1206" width="226" height="56"/><text class="l" x="1753" y="1222">SSBMod::MsgReportFileSource</text><text class="l" x="1753" y="1236.7">StreamData::MsgReportFileSource</text><text x="1855" y="1251.4">StreamData</text></g>
<g id="n-fdmafm" class="n"><rect x="1751" y="1286" width="207" height="26"/><text x="1854.5" y="1303.7">FreeDVMod::applyFreeDVMode</text></g>
<g id="n-capll" class="n"><rect x="1756" y="1337" width="197" height="26"/><text x="1854.5" y="1354.7">ChannelAnalyzer::getPllPhase</text></g>
<g id="n-camsg" class="n"><rect x="1721" y="1389" width="267" height="54"/><text class="l" x="1732" y="1405">ChannelAnalyzer::MsgReport</text><text class="l" x="1732" y="1419.7">ChannelSampleRateChanged</text><text x="1854.5" y="1434.4">::MsgReportChannelSampleRateChanged</text></g>
<g id="n-amdmsg" class="n"><rect x="1733" y="1469" width="243" height="41"/><text class="l" x="1744" y="1485">AMDemod::MsgConfigureChannelizer</text><text x="1854.5" y="1499.7">::MsgConfigureChannelizer</text></g>
<g id="n-amddestroy" class="n"><rect x="1787" y="1573" width="134" height="26"/><text x="1854" y="1590.7">AMDemod::destroy</text></g>
<g id="n-ftdisc" class="n"><rect x="1757" y="1662" width="195" height="26"/><text x="1854.5" y="1679.7">FreqTracker::disconnectTimer</text></g>
<g id="n-ftconn" class="n"><rect x="1765" y="1713" width="179" height="26"/><text x="1854.5" y="1730.7">FreqTracker::connectTimer</text></g>
<g id="n-ftdestroy" class="n"><rect x="1783" y="1821" width="142" height="26"/><text x="1854" y="1838.7">FreqTracker::destroy</text></g>
<g id="n-fdmaasr" class="n"><rect x="1737" y="1872" width="235" height="25"/><text x="1854.5" y="1889.2">FreeDVMod::applyAudioSampleRate</text></g>
<g id="n-fddafm" class="n"><rect x="1742" y="1954" width="225" height="26"/><text x="1854.5" y="1971.7">FreeDVDemod::applyFreeDVMode</text></g>
<g id="n-fddaasr" class="n"><rect x="1728" y="2005" width="253" height="26"/><text x="1854.5" y="2022.7">FreeDVDemod::applyAudioSampleRate</text></g>
<g id="n-argetdec" class="n"><rect x="1750" y="2056" width="208" height="25"/><text x="1854" y="2073.2">AudioResampler::getDecimation</text></g>
<g id="n-ansncd" class="n"><rect x="1745" y="2110" width="220" height="26"/><text x="1855" y="2127.7">AudioNetSink::setNewCodecData</text></g>
<g id="n-psoinit" class="n"><rect x="1782" y="2162" width="136" height="25"/><text x="1850" y="2179.2">PlutoSDROutput::init</text></g>
<g id="n-psostart" class="n"><rect x="1777" y="2213" width="155" height="25"/><text x="1854.5" y="2230.2">PlutoSDROutput::start</text></g>
<g id="n-psohm" class="n"><rect x="1745" y="2263" width="219" height="25"/><text x="1854.5" y="2280.2">PlutoSDROutput::handleMessage</text></g>
<g id="n-psiinit" class="n"><rect x="1787" y="2313" width="134" height="26"/><text x="1854" y="2330.7">PlutoSDRInput::init</text></g>
<g id="n-psistart" class="n"><rect x="1783" y="2364" width="143" height="25"/><text x="1854.5" y="2381.2">PlutoSDRInput::start</text></g>
<g id="n-psihm" class="n"><rect x="1751" y="2414" width="207" height="26"/><text x="1854.5" y="2431.7">PlutoSDRInput::handleMessage</text></g>
<g id="n-tmcb" class="n"><rect x="1775" y="2470" width="159" height="26"/><text x="1854.5" y="2487.7">TestMIThread::callback</text></g>
<g id="n-tscb" class="n"><rect x="1762" y="2652" width="184" height="26"/><text x="1854" y="2669.7">TestSourceThread::callback</text></g>
<g id="n-atvdguicreate" class="n"><rect x="2068" y="17" width="159" height="24"/><text x="2147.5" y="33.7">ATVDemodGUI::create</text></g>
<g id="n-atvmpull" class="n"><rect x="2096" y="192" width="103" height="26"/><text x="2147.5" y="209.7">ATVMod::pull</text></g>
<g id="n-ssbdgui" class="n"><rect x="2039" y="988" width="216" height="26"/><text x="2147" y="1005.7">SSBDemodGUI::SSBDemodGUI</text></g>
<g id="n-ssbmgui" class="n"><rect x="2056" y="1038" width="183" height="26"/><text x="2147.5" y="1055.7">SSBModGUI::SSBModGUI</text></g>
<g id="n-udpguicreate" class="n"><rect x="2067" y="1093" width="160" height="26"/><text x="2147" y="1110.7">UDPSourceGUI::create</text></g>
<g id="n-fdmapply" class="n"><rect x="2058" y="1682" width="178" height="26"/><text x="2147" y="1699.7">FreeDVMod::applySettings</text></g>
<g id="n-ftdtor" class="n"><rect x="2058" y="1733" width="178" height="26"/><text x="2147" y="1750.7">FreqTracker::~FreqTracker</text></g>
<g id="n-fddapply" class="n"><rect x="2048" y="1954" width="197" height="26"/><text x="2146.5" y="1971.7">FreeDVDemod::applySettings</text></g>
<g id="n-fddpush" class="n"><rect x="2036" y="2055" width="223" height="26"/><text x="2147.5" y="2072.7">FreeDVDemod::pushSampleToDV</text></g>
<g id="n-ansdec" class="n"><rect x="2050" y="2106" width="194" height="26"/><text x="2147" y="2123.7">AudioNetSink::setDecimation</text></g>
<g id="n-ansparam" class="n"><rect x="2050" y="2157" width="194" height="26"/><text x="2147" y="2174.7">AudioNetSink::setParameters</text></g>
<g id="n-psomsg" class="n"><rect x="2057" y="2209" width="181" height="40"/><text class="l" x="2068" y="2225">PlutoSDROutput::MsgStart</text><text x="2147.5" y="2239.7">Stop::MsgStartStop</text></g>
<g id="n-psosr" class="n"><rect x="2037" y="2275" width="220" height="25"/><text x="2147" y="2292.2">PlutoSDROutput::setSampleRate</text></g>
<g id="n-psimsg" class="n"><rect x="2048" y="2336" width="199" height="40"/><text class="l" x="2059" y="2352">PlutoSDRInput::MsgStartStop</text><text x="2147.5" y="2366.7">::MsgStartStop</text></g>
<g id="n-psisr" class="n"><rect x="2043" y="2414" width="208" height="26"/><text x="2147" y="2431.7">PlutoSDRInput::setSampleRate</text></g>
<g id="n-atvdplugin" class="n"><rect x="2329" y="8" width="187" height="41"/><text class="l" x="2340" y="24">ATVDemodPlugin::createRx</text><text x="2422.5" y="38.7">ChannelGUI</text></g>
<g id="n-atvmdestroy" class="n"><rect x="2360" y="192" width="124" height="26"/><text x="2422" y="209.7">ATVMod::destroy</text></g>
<g id="n-ssbdguicreate" class="n"><rect x="2343" y="988" width="158" height="26"/><text x="2422" y="1005.7">SSBDemodGUI::create</text></g>
<g id="n-ssbmguicreate" class="n"><rect x="2351" y="1038" width="142" height="26"/><text x="2422" y="1055.7">SSBModGUI::create</text></g>
<g id="n-udpplugin" class="n"><rect x="2329" y="1091" width="187" height="40"/><text class="l" x="2340" y="1107">UDPSourcePlugin::createTx</text><text x="2422.5" y="1121.7">ChannelGUI</text></g>
<g id="n-fdmctor" class="n"><rect x="2337" y="1682" width="170" height="26"/><text x="2422" y="1699.7">FreeDVMod::FreeDVMod</text></g>
<g id="n-fdmhm" class="n"><rect x="2327" y="1794" width="190" height="26"/><text x="2422" y="1811.7">FreeDVMod::handleMessage</text></g>
<g id="n-fddctor" class="n"><rect x="2320" y="1925" width="204" height="25"/><text x="2422" y="1942.2">FreeDVDemod::FreeDVDemod</text></g>
<g id="n-fddhm" class="n"><rect x="2318" y="2005" width="208" height="26"/><text x="2422" y="2022.7">FreeDVDemod::handleMessage</text></g>
<g id="n-fddpos" class="n"><rect x="2307" y="2055" width="230" height="26"/><text x="2422" y="2072.7">FreeDVDemod::processOneSample</text></g>
<g id="n-aoudec" class="n"><rect x="2317" y="2106" width="210" height="26"/><text x="2422" y="2123.7">AudioOutput::setUdpDecimation</text></g>
<g id="n-aoufmt" class="n"><rect x="2326" y="2158" width="192" height="41"/><text class="l" x="2337" y="2174">AudioOutput::setUdpChannel</text><text x="2422" y="2188.7">Format</text></g>
<g id="n-ssbplugin" class="n"><rect x="2601" y="988" width="218" height="26"/><text x="2710" y="1005.7">SSBPlugin::createRxChannelGUI</text></g>
<g id="n-ssbmplugin" class="n"><rect x="2589" y="1038" width="241" height="26"/><text x="2709.5" y="1055.7">SSBModPlugin::createTxChannelGUI</text></g>
<g id="n-udpinit" class="n"><rect x="2615" y="1097" width="190" height="25"/><text x="2710" y="1114.2">UDPSourcePlugin::initPlugin</text></g>
<g id="n-fdmmsg" class="n"><rect x="2597" y="1669" width="227" height="54"/><text class="l" x="2608" y="1685">FreeDVMod::MsgReportFile</text><text class="l" x="2608" y="1699.7">SourceStreamData::MsgReportFile</text><text x="2710.5" y="1714.4">SourceStreamData</text></g>
<g id="n-fdmsss" class="n"><rect x="2588" y="1794" width="244" height="26"/><text x="2710" y="1811.7">FreeDVMod::setSpectrumSampleSink</text></g>
<g id="n-fddmsg" class="n"><rect x="2585" y="1919" width="250" height="40"/><text class="l" x="2596" y="1935">FreeDVDemod::MsgConfigure</text><text x="2710" y="1949.7">Channelizer::MsgConfigureChannelizer</text></g>
<g id="n-fddfeed" class="n"><rect x="2638" y="2055" width="143" height="26"/><text x="2709.5" y="2072.7">FreeDVDemod::feed</text></g>
<g id="n-adm" class="n"><rect x="2634" y="2148" width="150" height="40"/><text class="l" x="2645" y="2164">AudioDeviceManager</text><text x="2709" y="2178.7">::setOutputDeviceInfo</text></g>
<g id="n-ssbinit" class="n"><rect x="2919" y="988" width="146" height="26"/><text x="2992" y="1005.7">SSBPlugin::initPlugin</text></g>
<g id="n-ssbminit" class="n"><rect x="2906" y="1038" width="171" height="26"/><text x="2991.5" y="1055.7">SSBModPlugin::initPlugin</text></g>
<g id="n-fdmgui" class="n"><rect x="2883" y="1794" width="218" height="26"/><text x="2992" y="1811.7">FreeDVModGUI::FreeDVModGUI</text></g>
<g id="n-fddsss" class="n"><rect x="2890" y="2015" width="204" height="26"/><text x="2992" y="2032.7">FreeDVDemod::setSampleSink</text></g>
<g id="n-wagui" class="n"><rect x="2893" y="2089" width="197" height="40"/><text class="l" x="2904" y="2105">WebAPIAdapterGUI::instance</text><text x="2991.5" y="2119.7">AudioOutputPatch</text></g>
<g id="n-adxaccept" class="n"><rect x="2918" y="2155" width="148" height="26"/><text x="2992" y="2172.7">AudioDialogX::accept</text></g>
<g id="n-wasrv" class="n"><rect x="2895" y="2206" width="194" height="40"/><text class="l" x="2906" y="2222">WebAPIAdapterSrv::instance</text><text x="2992" y="2236.7">AudioOutputPatch</text></g>
<g id="n-fdmguicreate" class="n"><rect x="3196" y="1794" width="159" height="26"/><text x="3275.5" y="1811.7">FreeDVModGUI::create</text></g>
<g id="n-fddgui" class="n"><rect x="3149" y="2015" width="251" height="26"/><text x="3274.5" y="2032.7">FreeDVDemodGUI::FreeDVDemodGUI</text></g>
<g id="n-fdmplugin" class="n"><rect x="3449" y="1787" width="186" height="41"/><text class="l" x="3460" y="1803">FreeDVModPlugin::createTx</text><text x="3542" y="1817.7">ChannelGUI</text></g>
<g id="n-fddguicreate" class="n"><rect x="3454" y="2015" width="177" height="26"/><text x="3542.5" y="2032.7">FreeDVDemodGUI::create</text></g>
<g id="n-fdminit" class="n"><rect x="3707" y="1794" width="189" height="26"/><text x="3801.5" y="1811.7">FreeDVModPlugin::initPlugin</text></g>
<g id="n-fddplugin" class="n"><rect x="3684" y="2015" width="235" height="26"/><text x="3801.5" y="2032.7">FreeDVPlugin::createRxChannelGUI</text></g>
<g id="n-fddinit" class="n"><rect x="3968" y="2015" width="163" height="26"/><text x="4049.5" y="2032.7">FreeDVPlugin::initPlugin</text></g>
</g>
</g>
</svg>
